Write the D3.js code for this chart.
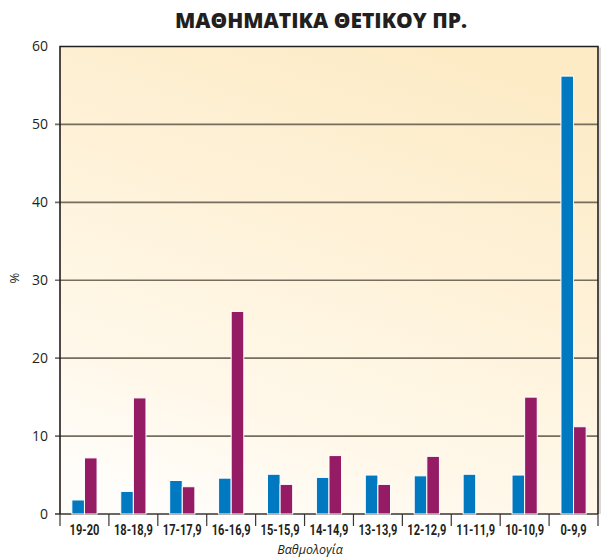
<!DOCTYPE html>
<html>
<head>
<meta charset="utf-8">
<script src="https://cdn.jsdelivr.net/npm/d3@7"></script>
<style>
  html, body { margin: 0; padding: 0; background: #fff; }
  svg { display: block; }
</style>
</head>
<body>
<svg id="chart" width="608" height="558"></svg>
<script>
const categories = ["19-20", "18-18,9", "17-17,9", "16-16,9", "15-15,9", "14-14,9",
                    "13-13,9", "12-12,9", "11-11,9", "10-10,9", "0-9,9"];
const seriesNames = ["A", "B"];
const seriesA = [1.8, 2.9, 4.3, 4.6, 5.1, 4.7, 5.0, 4.9, 5.1, 5.0, 56.2];
const seriesB = [7.2, 14.9, 3.5, 26.0, 3.8, 7.5, 3.8, 7.4, 0, 15.0, 11.2];
const yTicks = [0, 10, 20, 30, 40, 50, 60];
const colors = ["#0079c1", "#951c64"];
const title = "ΜΑΘΗΜΑΤΙΚΑ ΘΕΤΙΚΟΥ ΠΡ.";
const xTitle = "Βαθμολογία";
const yTitle = "%";

const svg = d3.select("#chart");
const m = { left: 60, right: 598, top: 46.5, bottom: 514 };

const x0 = d3.scaleBand().domain(categories).range([m.left, m.right]).padding(0);
const x1 = d3.scaleBand().domain(seriesNames).range([0, x0.bandwidth()])
  .paddingInner(0).paddingOuter(0.94);
const y = d3.scaleLinear().domain([0, 60]).range([m.bottom, m.top]);

// background gradient
const defs = svg.append("defs");
const grad = defs.append("linearGradient").attr("id", "bg")
  .attr("x1", "0.3").attr("y1", "1").attr("x2", "0.7").attr("y2", "0");
grad.append("stop").attr("offset", "0").attr("stop-color", "#fffdf9");
grad.append("stop").attr("offset", "0.2").attr("stop-color", "#fff8ea");
grad.append("stop").attr("offset", "1").attr("stop-color", "#fdebc6");

svg.append("rect")
  .attr("x", m.left).attr("y", m.top)
  .attr("width", m.right - m.left).attr("height", m.bottom - m.top)
  .attr("fill", "url(#bg)");

// shadow on right
svg.append("rect")
  .attr("x", m.right + 1).attr("y", m.top + 1)
  .attr("width", 2).attr("height", m.bottom - m.top - 1)
  .attr("fill", "#dcd9d3");

// y axis labels
const yAxis = d3.axisLeft(y).tickValues(yTicks).tickSize(0).tickPadding(12)
  .tickFormat(d3.format("d"));
const ga = svg.append("g").attr("transform", `translate(${m.left},0)`).call(yAxis);
ga.select(".domain").remove();
ga.selectAll("text")
  .attr("font-family", "'Open Sans', sans-serif")
  .attr("font-size", 14)
  .attr("fill", "#231f20");

// gridlines
svg.append("g").selectAll("line")
  .data(yTicks.filter(d => d < 60))
  .join("line")
  .attr("x1", m.left - 5).attr("x2", m.right)
  .attr("y1", d => y(d)).attr("y2", d => y(d))
  .attr("stroke", d => d === 0 ? "#3a3530" : "#756d5e")
  .attr("stroke-width", 1.6);

// bottom ticks at band boundaries
const bounds = categories.map(c => x0(c)).concat([m.right]);
svg.append("g").selectAll("line")
  .data(bounds)
  .join("line")
  .attr("x1", d => d).attr("x2", d => d)
  .attr("y1", m.bottom).attr("y2", m.bottom + 12)
  .attr("stroke", "#3a3530").attr("stroke-width", 1.2);

// bars
const rows = categories.map((c, i) => ({ c, vals: [seriesA[i], seriesB[i]] }));
const g = svg.append("g").selectAll("g").data(rows).join("g")
  .attr("transform", d => `translate(${x0(d.c)},0)`);
g.selectAll("rect")
  .data(d => d.vals.map((v, k) => ({ k, v })).filter(e => e.v > 0))
  .join("rect")
  .attr("x", e => x1(seriesNames[e.k]))
  .attr("width", x1.bandwidth())
  .attr("y", e => y(e.v))
  .attr("height", e => y(0) - y(e.v))
  .attr("fill", e => colors[e.k])
  .attr("stroke", "#fff")
  .attr("stroke-width", 1);

// frame (left, top, right)
svg.append("path")
  .attr("d", `M${m.left},${m.bottom}V${m.top}H${m.right}V${m.bottom}`)
  .attr("fill", "none").attr("stroke", "#231f20").attr("stroke-width", 1.6);

// category labels (condensed by horizontal scaling)
svg.append("g").selectAll("text")
  .data(categories)
  .join("text")
  .attr("transform", d => `translate(${x0(d) + x0.bandwidth() / 2},535) scale(0.74,1)`)
  .attr("text-anchor", "middle")
  .attr("font-family", "Roboto, 'Open Sans', sans-serif")
  .attr("font-weight", "bold")
  .attr("font-size", 15)
  .attr("fill", "#231f20")
  .text(d => d);

// x title
svg.append("text")
  .attr("x", 310).attr("y", 554)
  .attr("text-anchor", "middle")
  .attr("font-family", "'Open Sans', sans-serif")
  .attr("font-style", "italic")
  .attr("font-size", 12.5)
  .attr("fill", "#231f20")
  .text(xTitle);

// y title
svg.append("text")
  .attr("transform", "translate(19,278) rotate(-90)")
  .attr("text-anchor", "middle")
  .attr("font-family", "'Open Sans', sans-serif")
  .attr("font-size", 13)
  .attr("fill", "#231f20")
  .text(yTitle);

// title
svg.append("text")
  .attr("x", 321).attr("y", 28)
  .attr("text-anchor", "middle")
  .attr("font-family", "'Open Sans', sans-serif")
  .attr("font-weight", 800)
  .attr("font-size", 21)
  .attr("fill", "#231f20")
  .text(title);
</script>
</body>
</html>
